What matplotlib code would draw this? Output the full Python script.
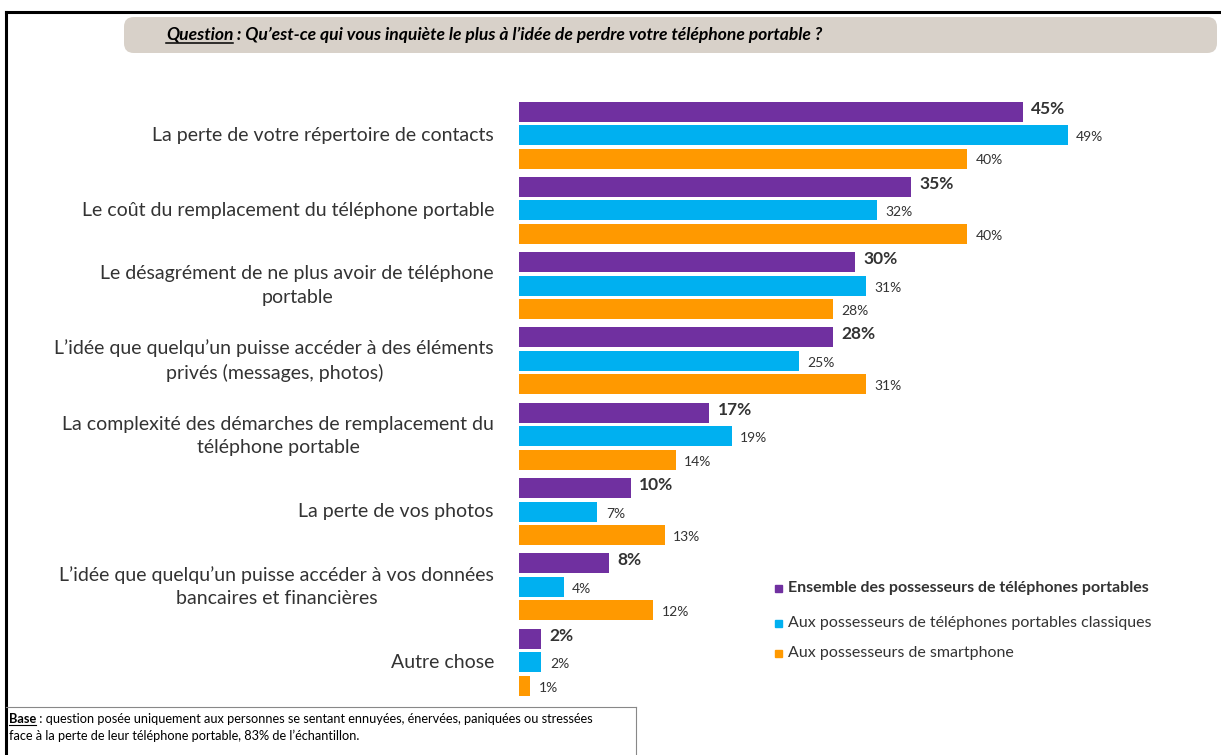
import matplotlib.pyplot as plt
from matplotlib.patches import FancyBboxPatch, Rectangle
from matplotlib.lines import Line2D

# ── DATA ──────────────────────────────────────────────────────────────────────
CATEGORIES = [
    "La perte de votre répertoire de contacts",
    "Le coût du remplacement du téléphone portable",
    "Le désagrément de ne plus avoir de téléphone\nportable",
    "L’idée que quelqu’un puisse accéder à des éléments\nprivés (messages, photos)",
    "La complexité des démarches de remplacement du\ntéléphone portable",
    "La perte de vos photos",
    "L’idée que quelqu’un puisse accéder à vos données\nbancaires et financières",
    "Autre chose",
]
ENSEMBLE   = [45, 35, 30, 28, 17, 10, 8, 2]
CLASSIQUES = [49, 32, 31, 25, 19, 7, 4, 2]
SMARTPHONE = [40, 40, 28, 31, 14, 13, 12, 1]

SERIES_NAMES = [
    "Ensemble des possesseurs de téléphones portables",
    "Aux possesseurs de téléphones portables classiques",
    "Aux possesseurs de smartphone",
]
COLORS = ["#7030A0", "#00B0F0", "#FF9900"]

TITLE_LEAD = "Question"
TITLE_REST = " : Qu’est-ce qui vous inquiète le plus à l’idée de perdre votre téléphone portable ?"
BASE_LEAD = "Base"
BASE_REST = " : question posée uniquement aux personnes se sentant ennuyées, énervées, paniquées ou stressées"
BASE_LINE2 = "face à la perte de leur téléphone portable, 83% de l’échantillon."

# ── LAYOUT ────────────────────────────────────────────────────────────────────
W, H = 1221, 755
FONT = "Lato"
plt.rcParams['font.family'] = [FONT, 'DejaVu Sans']

fig = plt.figure(figsize=(W / 100, H / 100), dpi=100)


def fx(px):
    return px / W


def fy(py):
    return 1 - py / H


# axes in pixel-like data units on y (inverted), percent on x
AX_LEFT, AX_RIGHT = 519, 519 + 672
AX_TOP, AX_BOT = 90, 705
ax = fig.add_axes([fx(AX_LEFT), fy(AX_BOT), fx(AX_RIGHT - AX_LEFT), (AX_BOT - AX_TOP) / H])
ax.set_xlim(0, 60)
ax.set_ylim(AX_BOT, AX_TOP)
ax.axis('off')

GROUP0 = 135
GROUP_STEP = 75.3
BAR_STEP = 23.5
BAR_H = 20

for i, cat in enumerate(CATEGORIES):
    c = GROUP0 + i * GROUP_STEP
    for j, (vals, col) in enumerate(zip([ENSEMBLE, CLASSIQUES, SMARTPHONE], COLORS)):
        y = c + (j - 1) * BAR_STEP
        ax.barh(y, vals[i], height=BAR_H, color=col, edgecolor='none')
        if j == 0:
            ax.text(vals[i] + 0.75, y - 3, f"{vals[i]}%", ha='left', va='center',
                    fontsize=12.5, fontweight='bold', color='#333333')
        else:
            ax.text(vals[i] + 0.75, y + 2, f"{vals[i]}%", ha='left', va='center',
                    fontsize=10, color='#333333')
    fig.text(fx(494), fy(c), cat, ha='right', va='center', multialignment='center',
             fontsize=14, color='#333333', linespacing=1.45)

# legend
leg_y = [588, 623, 653]
for name, col, ly, k in zip(SERIES_NAMES, COLORS, leg_y, range(3)):
    fig.patches.append(Rectangle((fx(775), fy(ly + 4)), 7 / W, 7 / H,
                                 transform=fig.transFigure, color=col))
    fig.text(fx(788), fy(ly), name, ha='left', va='center', fontsize=11.5,
             fontweight='bold' if k == 0 else 'normal', color='#333333')

# frame lines
fig.add_artist(Line2D([fx(6), fx(W)], [fy(12), fy(12)], color='black', lw=2.2))
fig.add_artist(Line2D([fx(6), fx(6)], [fy(12), fy(H)], color='black', lw=2.2))

# title box
fig.patches.append(FancyBboxPatch((fx(124), fy(53)), fx(1217 - 124), 36 / H,
                                  boxstyle="round,pad=0,rounding_size=0.008",
                                  transform=fig.transFigure, facecolor='#D8D1C9',
                                  edgecolor='none', mutation_aspect=W / H))
t1 = fig.text(fx(166), fy(35), TITLE_LEAD, ha='left', va='center', fontsize=12.6,
              fontweight='bold', fontstyle='italic', color='black')
fig.canvas.draw()
r = fig.canvas.get_renderer()
bb = t1.get_window_extent(r)
fig.text(bb.x1 / W, fy(35), TITLE_REST, ha='left', va='center', fontsize=12.6,
         fontweight='bold', fontstyle='italic', color='black')
fig.add_artist(Line2D([bb.x0 / W, bb.x1 / W], [(bb.y0 + 0.5) / H] * 2, color='black', lw=1.1))

# footnote box
fig.add_artist(Line2D([fx(6), fx(636)], [fy(707), fy(707)], color='#888888', lw=0.8))
fig.add_artist(Line2D([fx(636), fx(636)], [fy(707), fy(H)], color='#888888', lw=0.8))
b1 = fig.text(fx(9), fy(719), BASE_LEAD, ha='left', va='center', fontsize=9.2,
              fontweight='bold', color='black')
fig.canvas.draw()
bb2 = b1.get_window_extent(r)
fig.text(bb2.x1 / W, fy(719), BASE_REST, ha='left', va='center', fontsize=9.2, color='black')
fig.add_artist(Line2D([bb2.x0 / W, bb2.x1 / W], [(bb2.y0 + 0.5) / H] * 2, color='black', lw=0.8))
fig.text(fx(9), fy(736), BASE_LINE2, ha='left', va='center', fontsize=9.2, color='black')

fig.savefig("out.png", dpi=100)
